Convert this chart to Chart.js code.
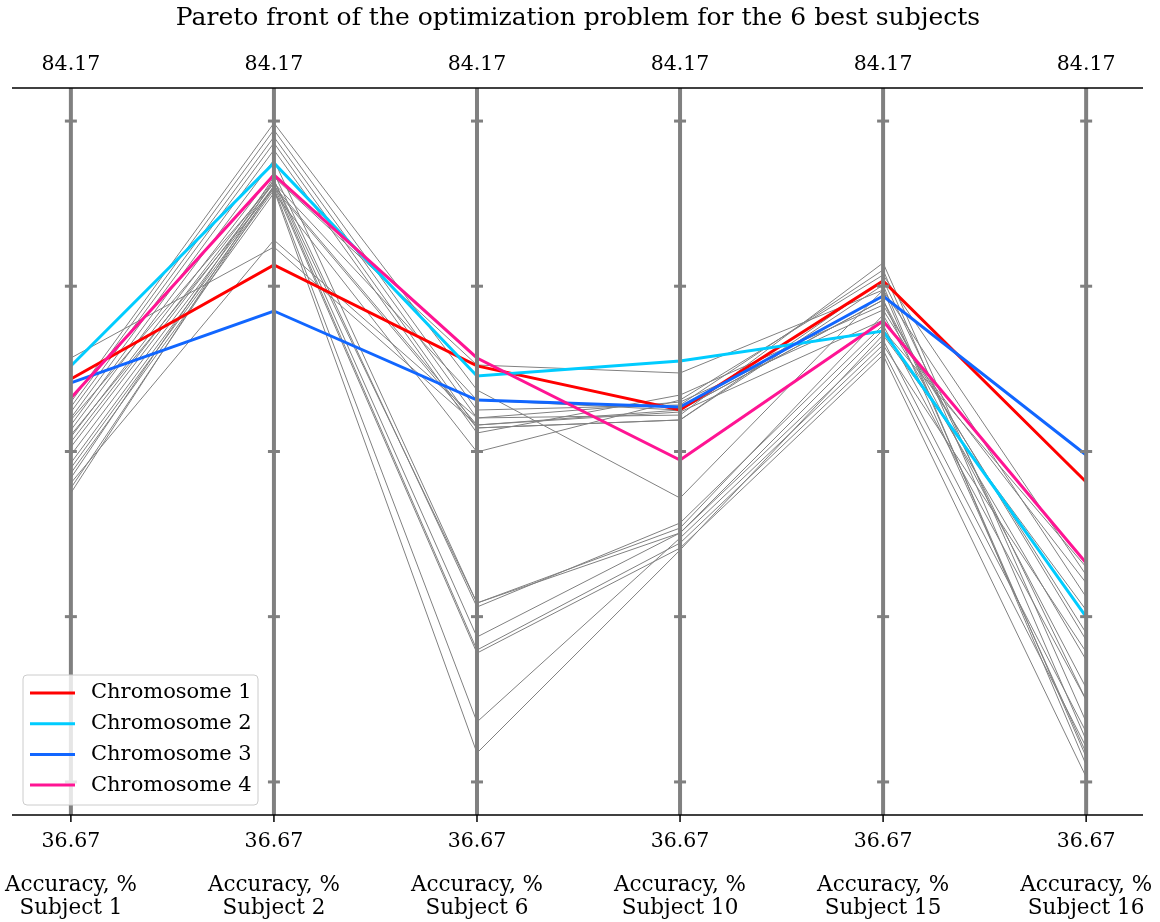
<!DOCTYPE html>
<html>
<head>
<meta charset="utf-8">
<script src="https://cdn.jsdelivr.net/npm/chart.js@4.4.0/dist/chart.umd.min.js"></script>
<style>
body { margin: 0; background: #fff; }
</style>
</head>
<body>
<canvas id="paretoChart" width="1160" height="922"></canvas>
<script>
// Axes of the parallel coordinates plot
const subjects = ['Subject 1', 'Subject 2', 'Subject 6', 'Subject 10', 'Subject 15', 'Subject 16'];
const axisMin = 36.67;
const axisMax = 84.17;
const tickValues = [38.83, 49.63, 60.42, 71.22, 82.01];

// Highlighted solutions
const chromosome1 = [65.16, 72.61, 66.01, 63.13, 71.56, 58.43];
const chromosome2 = [66.01, 79.27, 65.35, 66.33, 68.29, 49.61];
const chromosome3 = [64.90, 69.60, 63.78, 63.33, 70.58, 60.19];
const chromosome4 = [63.92, 78.49, 66.53, 59.86, 68.95, 53.13];

// Remaining solutions of the pareto front (grey)
const otherSolutions = [
    [66.53, 73.78, 62.15, 63.13, 70.32, 44.97],
    [63.65, 81.88, 64.44, 57.38, 70.97, 40.46],
    [63.33, 81.43, 63.13, 63.46, 72.28, 41.57],
    [63.00, 80.97, 62.61, 62.80, 72.74, 42.75],
    [62.61, 80.58, 61.96, 62.48, 71.30, 39.94],
    [62.15, 80.12, 61.63, 64.11, 69.99, 48.10],
    [61.82, 79.47, 50.52, 55.42, 69.34, 46.80],
    [61.37, 78.62, 50.26, 55.75, 68.68, 44.18],
    [61.04, 78.16, 48.30, 55.10, 67.70, 42.09],
    [60.71, 77.96, 47.45, 54.44, 67.05, 41.11],
    [60.19, 77.77, 47.25, 54.11, 66.72, 39.15],
    [59.67, 77.64, 42.75, 54.77, 67.38, 47.32],
    [59.34, 77.51, 40.72, 53.98, 68.03, 50.06],
    [59.01, 77.31, 60.39, 63.78, 71.95, 52.35],
    [58.69, 78.35, 66.07, 65.55, 70.97, 50.91],
    [58.36, 74.24, 62.61, 63.65, 69.67, 48.56],
    [58.03, 77.77, 62.15, 63.00, 69.01, 51.83],
    [57.71, 78.16, 50.52, 55.10, 68.36, 52.87],
    [62.48, 77.96, 63.78, 63.13, 70.32, 40.72],
    [61.50, 77.64, 61.96, 62.48, 71.63, 44.18]
];

const toPoints = values => values.map((v, i) => ({ x: i, y: v }));
const serif = "'DejaVu Serif', serif";

const datasets = [
    { label: 'Chromosome 1', data: toPoints(chromosome1), borderColor: '#ff0000', borderWidth: 3, order: 4 },
    { label: 'Chromosome 2', data: toPoints(chromosome2), borderColor: '#00ccff', borderWidth: 3, order: 3 },
    { label: 'Chromosome 3', data: toPoints(chromosome3), borderColor: '#1166ff', borderWidth: 3, order: 2 },
    { label: 'Chromosome 4', data: toPoints(chromosome4), borderColor: '#ff1493', borderWidth: 3, order: 1 }
];
otherSolutions.forEach(row => {
    datasets.push({ label: '', data: toPoints(row), borderColor: '#808080', borderWidth: 1, order: 5 });
});

// draws the vertical axes, frame, labels and legend
const parallelAxes = {
    id: 'parallelAxes',
    afterDatasetsDraw(chart) {
        const { ctx, chartArea, scales } = chart;
        ctx.save();
        ctx.strokeStyle = '#808080';
        subjects.forEach((s, i) => {
            const x = scales.x.getPixelForValue(i);
            ctx.lineWidth = 4;
            ctx.beginPath();
            ctx.moveTo(x, chartArea.top);
            ctx.lineTo(x, chartArea.bottom);
            ctx.stroke();
            ctx.lineWidth = 3;
            tickValues.forEach(t => {
                const y = scales.y.getPixelForValue(t);
                ctx.beginPath();
                ctx.moveTo(x - 6, y);
                ctx.lineTo(x + 6, y);
                ctx.stroke();
            });
        });

        ctx.strokeStyle = '#000';
        ctx.lineWidth = 1.5;
        [chartArea.top, chartArea.bottom].forEach(y => {
            ctx.beginPath();
            ctx.moveTo(chartArea.left, y);
            ctx.lineTo(chartArea.right, y);
            ctx.stroke();
        });

        ctx.fillStyle = '#000';
        ctx.textAlign = 'center';
        ctx.textBaseline = 'middle';
        subjects.forEach((s, i) => {
            const x = scales.x.getPixelForValue(i);
            ctx.beginPath();
            ctx.moveTo(x, chartArea.bottom);
            ctx.lineTo(x, chartArea.bottom + 7);
            ctx.stroke();
            ctx.font = '20.5px ' + serif;
            ctx.fillText(axisMax.toFixed(2), x, 65);
            ctx.fillText(axisMin.toFixed(2), x, 842);
            ctx.font = '21.5px ' + serif;
            ctx.fillText('Accuracy, %', x, 885);
            ctx.fillText(s, x, 908);
        });

        ctx.font = '25px ' + serif;
        ctx.fillText('Pareto front of the optimization problem for the 6 best subjects', 578, 18);
        ctx.restore();
    },
    afterDraw(chart) {
        const { ctx } = chart;
        const items = chart.data.datasets.filter(d => d.label);
        ctx.save();
        const bx = 23, by = 675, bw = 235, bh = 130;
        ctx.fillStyle = 'rgba(255,255,255,0.8)';
        ctx.strokeStyle = '#cccccc';
        ctx.lineWidth = 1;
        ctx.beginPath();
        ctx.roundRect(bx, by, bw, bh, 4);
        ctx.fill();
        ctx.stroke();
        ctx.font = '21px ' + serif;
        ctx.textAlign = 'left';
        ctx.textBaseline = 'middle';
        items.forEach((d, k) => {
            const y = 693 + k * 30.7;
            ctx.strokeStyle = d.borderColor;
            ctx.lineWidth = 3;
            ctx.beginPath();
            ctx.moveTo(30, y);
            ctx.lineTo(75, y);
            ctx.stroke();
            ctx.fillStyle = '#000';
            ctx.fillText(d.label, 91, y);
        });
        ctx.restore();
    }
};

new Chart(document.getElementById('paretoChart'), {
    type: 'line',
    data: { datasets: datasets },
    options: {
        responsive: false,
        animation: false,
        layout: { padding: { left: 12, right: 17, top: 88, bottom: 107 } },
        elements: { point: { radius: 0 }, line: { tension: 0 } },
        plugins: { legend: { display: false }, tooltip: { enabled: false } },
        scales: {
            x: { type: 'linear', min: -0.29, max: 5.28, display: false },
            y: { type: 'linear', min: axisMin, max: axisMax, display: false }
        }
    },
    plugins: [parallelAxes]
});
</script>
</body>
</html>
